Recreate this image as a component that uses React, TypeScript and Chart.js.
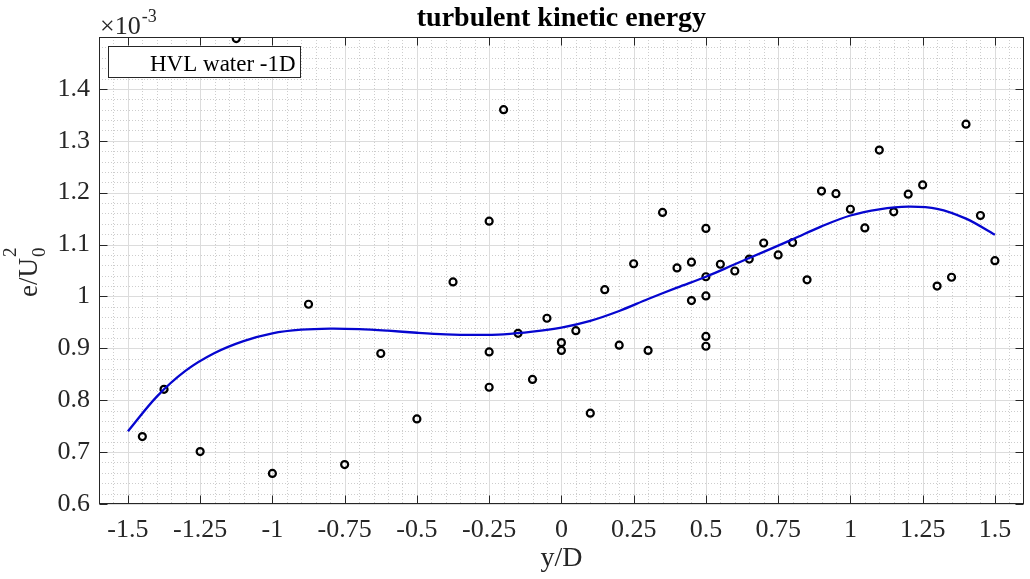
import React, { useEffect, useRef } from 'react';
import { Chart, registerables } from 'chart.js';

Chart.register(...registerables);

const TITLE = 'turbulent kinetic energy';
const LEGEND_LABEL = 'HVL water -1D';
const X_LABEL = 'y/D';
const Y_LABEL_MAIN = 'e/U';
const Y_LABEL_SUB = '0';
const Y_LABEL_SUP = '2';
const EXP_BASE = '\u00d710';
const EXP_POWER = '-3';

const X_MIN = -1.6;
const X_MAX = 1.6;
const Y_MIN = 0.6;
const Y_MAX = 1.5;
const xTicks = [-1.5, -1.25, -1, -0.75, -0.5, -0.25, 0, 0.25, 0.5, 0.75, 1, 1.25, 1.5];
const xTickLabels = ['-1.5', '-1.25', '-1', '-0.75', '-0.5', '-0.25', '0', '0.25', '0.5', '0.75', '1', '1.25', '1.5'];
const yTicks = [0.6, 0.7, 0.8, 0.9, 1.0, 1.1, 1.2, 1.3, 1.4];
const yTickLabels = ['0.6', '0.7', '0.8', '0.9', '1', '1.1', '1.2', '1.3', '1.4'];
const X_MINOR_STEP = 0.05;
const Y_MINOR_STEP = 0.02;

// measured points (y/D, e/U0^2 x 1e-3)
const measX = [
  -1.45, -1.375, -1.25, -1.125, -1.0, -0.875, -0.75, -0.625, -0.5, -0.375,
  -0.25, -0.25, -0.25, -0.2, -0.15, -0.1, -0.05, 0, 0, 0.05,
  0.1, 0.15, 0.2, 0.25, 0.3, 0.35, 0.4, 0.45, 0.45, 0.5,
  0.5, 0.5, 0.5, 0.5, 0.55, 0.6, 0.65, 0.7, 0.75, 0.8,
  0.85, 0.9, 0.95, 1.0, 1.05, 1.1, 1.15, 1.2, 1.25, 1.3,
  1.35, 1.4, 1.45, 1.5,
];
const measY = [
  0.730, 0.821, 0.701, 1.497, 0.659, 0.985, 0.676, 0.890, 0.764, 1.028,
  1.145, 0.893, 0.825, 1.360, 0.929, 0.840, 0.958, 0.911, 0.896, 0.934,
  0.775, 1.013, 0.906, 1.063, 0.896, 1.162, 1.055, 1.066, 0.992, 1.131,
  1.038, 1.001, 0.923, 0.904, 1.062, 1.049, 1.072, 1.103, 1.080, 1.104,
  1.032, 1.203, 1.198, 1.168, 1.132, 1.282, 1.163, 1.197, 1.215, 1.020,
  1.037, 1.332, 1.156, 1.069,
];

// fitted curve
const fitX = [
  -1.5, -1.4, -1.3, -1.2, -1.1, -1.0, -0.9, -0.8, -0.7, -0.6,
  -0.5, -0.4, -0.3, -0.2, -0.1, 0, 0.1, 0.2, 0.3, 0.4,
  0.5, 0.6, 0.7, 0.8, 0.9, 1.0, 1.1, 1.2, 1.3, 1.4,
  1.5,
];
const fitY = [
  0.740, 0.807, 0.857, 0.891, 0.914, 0.929, 0.936, 0.938, 0.937, 0.934,
  0.930, 0.927, 0.926, 0.927, 0.932, 0.940, 0.953, 0.972, 0.995, 1.017,
  1.038, 1.062, 1.086, 1.110, 1.135, 1.156, 1.168, 1.173, 1.169, 1.150,
  1.119,
];

const SERIF = '"Liberation Serif", "Times New Roman", serif';
const AXIS_COLOR = '#262626';

const decorPlugin = {
  id: 'decor',
  beforeDatasetsDraw(chart: any) {
    const { ctx, chartArea: a, scales } = chart;
    const xs = scales.x;
    const ys = scales.y;
    ctx.save();
    ctx.strokeStyle = '#cdcdcd';
    ctx.lineWidth = 1;
    ctx.setLineDash([1, 2]);
    const isMajor = (v: number, ticks: number[]) => ticks.some((t) => Math.abs(t - v) < 1e-6);
    const nx = Math.round((X_MAX - X_MIN) / X_MINOR_STEP);
    for (let i = 1; i < nx; i++) {
      const v = X_MIN + i * X_MINOR_STEP;
      if (isMajor(v, xTicks)) continue;
      const px = Math.round(xs.getPixelForValue(v)) + 0.5;
      ctx.beginPath();
      ctx.moveTo(px, a.top);
      ctx.lineTo(px, a.bottom);
      ctx.stroke();
    }
    const ny = Math.round((Y_MAX - Y_MIN) / Y_MINOR_STEP);
    for (let i = 1; i < ny; i++) {
      const v = Y_MIN + i * Y_MINOR_STEP;
      if (isMajor(v, yTicks)) continue;
      const py = Math.round(ys.getPixelForValue(v)) + 0.5;
      ctx.beginPath();
      ctx.moveTo(a.left, py);
      ctx.lineTo(a.right, py);
      ctx.stroke();
    }
    ctx.setLineDash([]);
    ctx.strokeStyle = '#dcdcdc';
    xTicks.forEach((v) => {
      const px = Math.round(xs.getPixelForValue(v)) + 0.5;
      ctx.beginPath();
      ctx.moveTo(px, a.top);
      ctx.lineTo(px, a.bottom);
      ctx.stroke();
    });
    yTicks.forEach((v) => {
      const py = Math.round(ys.getPixelForValue(v)) + 0.5;
      ctx.beginPath();
      ctx.moveTo(a.left, py);
      ctx.lineTo(a.right, py);
      ctx.stroke();
    });
    ctx.restore();
  },
  afterDraw(chart: any) {
    const { ctx, chartArea: a, scales } = chart;
    const xs = scales.x;
    const ys = scales.y;
    ctx.save();
    ctx.strokeStyle = AXIS_COLOR;
    ctx.lineWidth = 1;
    const L = Math.round(a.left) + 0.5;
    const R = Math.round(a.right) - 0.5;
    const T = Math.round(a.top) + 0.5;
    const B = Math.round(a.bottom) - 0.5;
    ctx.strokeRect(L, T, R - L, B - T);
    const TL = 8;
    xTicks.forEach((v) => {
      const px = Math.round(xs.getPixelForValue(v)) + 0.5;
      ctx.beginPath();
      ctx.moveTo(px, B);
      ctx.lineTo(px, B - TL);
      ctx.moveTo(px, T);
      ctx.lineTo(px, T + TL);
      ctx.stroke();
    });
    yTicks.forEach((v) => {
      const py = Math.round(ys.getPixelForValue(v)) + 0.5;
      ctx.beginPath();
      ctx.moveTo(L, py);
      ctx.lineTo(L + TL, py);
      ctx.moveTo(R, py);
      ctx.lineTo(R - TL, py);
      ctx.stroke();
    });

    ctx.fillStyle = '#000';
    ctx.font = `bold 28px ${SERIF}`;
    ctx.textAlign = 'center';
    ctx.textBaseline = 'alphabetic';
    ctx.fillText(TITLE, (a.left + a.right) / 2, 26);

    ctx.fillStyle = AXIS_COLOR;
    ctx.font = `28px ${SERIF}`;
    ctx.fillText(X_LABEL, (a.left + a.right) / 2, 566);

    ctx.textAlign = 'left';
    ctx.font = `26px ${SERIF}`;
    ctx.fillText(EXP_BASE, 100, 33.5);
    const wb = ctx.measureText(EXP_BASE).width;
    ctx.font = `18px ${SERIF}`;
    ctx.fillText(EXP_POWER, 100 + wb + 1, 21.5);

    ctx.save();
    ctx.translate(37, 297);
    ctx.rotate(-Math.PI / 2);
    ctx.font = `27px ${SERIF}`;
    ctx.textAlign = 'left';
    ctx.fillText(Y_LABEL_MAIN, 0, 0);
    const wm = ctx.measureText(Y_LABEL_MAIN).width;
    ctx.font = `19px ${SERIF}`;
    ctx.fillText(Y_LABEL_SUP, wm + 1, -21);
    ctx.fillText(Y_LABEL_SUB, wm + 1, 8);
    ctx.restore();

    ctx.fillStyle = '#ffffff';
    ctx.fillRect(108.5, 46.5, 192, 31);
    ctx.strokeStyle = AXIS_COLOR;
    ctx.lineWidth = 1;
    ctx.strokeRect(108.5, 46.5, 192, 31);
    ctx.fillStyle = '#000';
    ctx.font = `23px ${SERIF}`;
    ctx.textAlign = 'left';
    ctx.fillText(LEGEND_LABEL, 150, 70.5);
    ctx.restore();
  },
};

export default function App() {
  const ref = useRef<HTMLCanvasElement | null>(null);
  useEffect(() => {
    if (!ref.current) return;
    const fitData = fitX.map((x, i) => ({ x, y: fitY[i] }));
    const measData = measX.map((x, i) => ({ x, y: measY[i] }));
    const chart = new Chart(ref.current, {
      type: 'scatter',
      data: {
        datasets: [
          {
            label: 'fit',
            data: fitData,
            showLine: true,
            borderColor: '#0606cf',
            borderWidth: 2.3,
            pointRadius: 0,
            tension: 0.35,
            fill: false,
          },
          {
            label: LEGEND_LABEL,
            data: measData,
            showLine: false,
            pointStyle: 'circle',
            pointRadius: 3.5,
            pointBorderWidth: 2.2,
            pointBorderColor: '#000',
            pointBackgroundColor: 'rgba(255,255,255,0)',
          },
        ],
      },
      options: {
        responsive: false,
        animation: false,
        events: [],
        layout: { padding: { top: 37, right: 1, left: 0, bottom: 0 } },
        plugins: {
          legend: { display: false },
          title: { display: false },
          tooltip: { enabled: false },
        },
        scales: {
          x: {
            type: 'linear',
            min: X_MIN,
            max: X_MAX,
            afterBuildTicks: (axis: any) => {
              axis.ticks = xTicks.map((v) => ({ value: v }));
            },
            afterFit: (axis: any) => {
              axis.height = 75;
            },
            grid: { display: false, drawTicks: false },
            border: { display: false },
            ticks: {
              autoSkip: false,
              maxRotation: 0,
              padding: 11,
              color: AXIS_COLOR,
              font: { family: SERIF, size: 26 },
              callback: (v: any) => {
                const i = xTicks.findIndex((t) => Math.abs(t - Number(v)) < 1e-6);
                return i >= 0 ? xTickLabels[i] : '';
              },
            },
          },
          y: {
            type: 'linear',
            min: Y_MIN,
            max: Y_MAX,
            afterBuildTicks: (axis: any) => {
              axis.ticks = yTicks.map((v) => ({ value: v }));
            },
            afterFit: (axis: any) => {
              axis.width = 99;
            },
            grid: { display: false, drawTicks: false },
            border: { display: false },
            ticks: {
              autoSkip: false,
              padding: 9,
              color: AXIS_COLOR,
              font: { family: SERIF, size: 26 },
              callback: (v: any) => {
                const i = yTicks.findIndex((t) => Math.abs(t - Number(v)) < 1e-6);
                return i >= 0 ? yTickLabels[i] : '';
              },
            },
          },
        },
      },
      plugins: [decorPlugin],
    } as any);
    return () => chart.destroy();
  }, []);

  return (
    <div style={{ position: 'fixed', left: 0, top: 0, width: 1030, height: 579, background: '#fff' }}>
      <canvas ref={ref} width={1030} height={579} style={{ width: 1030, height: 579, display: 'block' }} />
    </div>
  );
}
